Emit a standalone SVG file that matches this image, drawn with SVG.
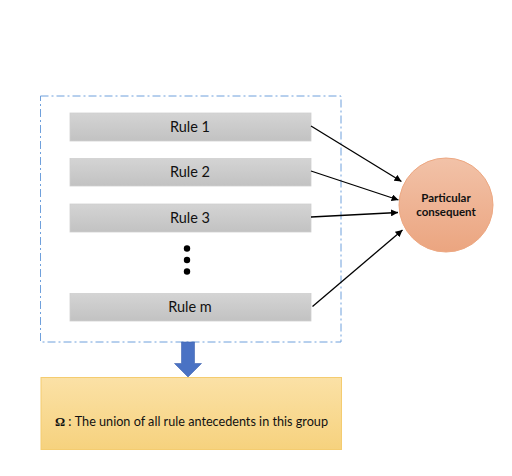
<svg xmlns="http://www.w3.org/2000/svg" width="512" height="476" viewBox="0 0 512 476">
<defs>
<linearGradient id="gRule" x1="0" y1="0" x2="0" y2="1"><stop offset="0" stop-color="#d4d4d4"/><stop offset="1" stop-color="#c2c2c2"/></linearGradient>
<linearGradient id="gCirc" x1="0" y1="0" x2="0" y2="1"><stop offset="0" stop-color="#f2c2a8"/><stop offset="1" stop-color="#eba580"/></linearGradient>
<linearGradient id="gYel" x1="0" y1="0" x2="0" y2="1"><stop offset="0" stop-color="#fbe1a6"/><stop offset="1" stop-color="#f6d27e"/></linearGradient>
<marker id="ah" viewBox="0 0 10 10" refX="10" refY="5" markerWidth="7" markerHeight="7" markerUnits="userSpaceOnUse" orient="auto"><path d="M0,0 L10,5 L0,10 z" fill="#000"/></marker>
</defs>
<style>
.rule rect{fill:url(#gRule);stroke:#cfcfcf;stroke-width:0.8}
.rt{font-family:Lato,"Open Sans","Liberation Sans",sans-serif;font-size:14.5px;fill:#111;text-anchor:middle}
.ct{font-family:Lato,"Open Sans","Liberation Sans",sans-serif;font-size:11.5px;font-weight:bold;fill:#111;text-anchor:middle}
.con{stroke:#000;stroke-width:1.3;fill:none;marker-end:url(#ah)}
</style>
<rect width="512" height="476" fill="#fff"/>
<g id="group">
<rect x="40.5" y="96" width="300.5" height="246" fill="none" stroke="#6fa0dc" stroke-width="1" stroke-dasharray="8,3,2,3"/>
</g>
<g id="rule1" class="rule"><rect x="70" y="113" width="241" height="28"/><text class="rt" x="190" y="132">Rule 1</text></g>
<g id="rule2" class="rule"><rect x="70" y="158.5" width="241" height="27.5"/><text class="rt" x="190" y="177">Rule 2</text></g>
<g id="rule3" class="rule"><rect x="70" y="204" width="241" height="28"/><text class="rt" x="190" y="223">Rule 3</text></g>
<g id="dots" fill="#000"><circle cx="187" cy="248.5" r="3.2"/><circle cx="187" cy="260" r="3.2"/><circle cx="187" cy="271.5" r="3.2"/></g>
<g id="rulem" class="rule"><rect x="70" y="293.5" width="241" height="27.5"/><text class="rt" x="190" y="312">Rule m</text></g>
<g id="consequent">
<circle cx="446" cy="205" r="47" fill="url(#gCirc)" stroke="#eda882" stroke-width="1"/>
<text class="ct" x="446" y="202">Particular</text>
<text class="ct" x="446" y="216">consequent</text>
</g>
<g id="connectors">
<line class="con" x1="311" y1="126" x2="401.5" y2="181.5"/>
<line class="con" x1="311" y1="171" x2="398.5" y2="200"/>
<line class="con" x1="311" y1="217" x2="398" y2="212.5"/>
<line class="con" x1="312.5" y1="306.5" x2="402.5" y2="230"/>
<path d="M181.5,342 L194.5,342 L194.5,363.5 L201.5,363.5 L188,377 L174.5,363.5 L181.5,363.5 Z" fill="#4a72c4" stroke="#3e63b0" stroke-width="0.6"/>
</g>
<g id="union">
<rect x="41" y="377.5" width="300.5" height="72" fill="url(#gYel)" stroke="#f4cc70" stroke-width="1"/>
<text x="55" y="426" font-family="Lato,'Open Sans','Liberation Sans',sans-serif" font-size="13.5" fill="#111" textLength="273" lengthAdjust="spacingAndGlyphs"><tspan font-weight="bold" font-family="'Liberation Serif',serif">Ω</tspan> : The  union of all rule antecedents in this group</text>
</g>
</svg>
